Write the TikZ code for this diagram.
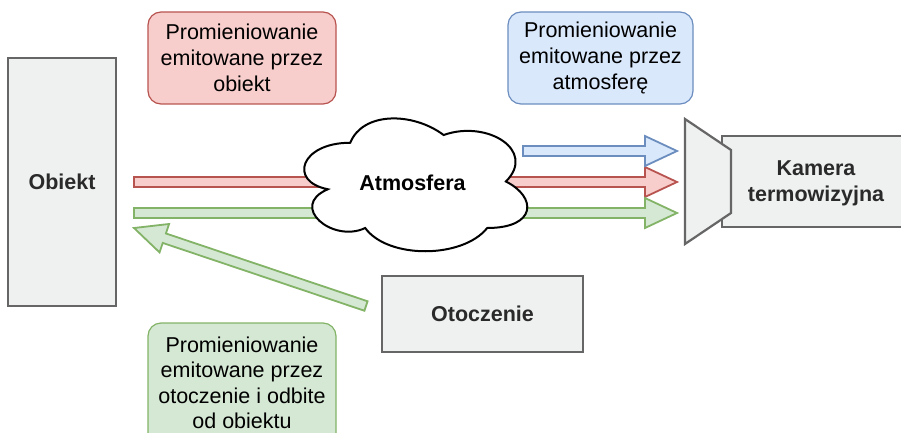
\documentclass[tikz,border=0pt]{standalone}
\usepackage{fontspec}
\setmainfont{Liberation Sans}
\usetikzlibrary{calc}
\definecolor{redS}{HTML}{B85450}\definecolor{redF}{HTML}{F8CECC}
\definecolor{bluS}{HTML}{6C8EBF}\definecolor{bluF}{HTML}{DAE8FC}
\definecolor{grnS}{HTML}{82B366}\definecolor{grnF}{HTML}{D5E8D4}
\definecolor{boxS}{HTML}{666666}\definecolor{boxF}{HTML}{EFF0F0}
\definecolor{txtD}{HTML}{2A2A2A}
\newcommand{\flexarr}[5]{%
  \coordinate (#5) at ($(#2)!32pt!(#1)$);
  \draw[draw=#3, fill=#4, line width=1.8pt, line join=miter]
   ($(#1)!5pt!90:(#2)$) -- ($(#5)!5pt!90:(#2)$) -- ($(#5)!15pt!90:(#2)$) -- (#2)
   -- ($(#5)!15pt!-90:(#2)$) -- ($(#5)!5pt!-90:(#2)$) -- ($(#1)!5pt!-90:(#2)$) -- cycle;}
\tikzset{
  gbox/.style={draw=boxS, fill=boxF, line width=2.2pt, text=txtD, font=\fontsize{21.5}{26}\selectfont\bfseries, align=center, inner sep=0pt},
  tbox/.style={rounded corners=13pt, line width=1.2pt, text=black, font=\fontsize{21.5}{26}\selectfont, align=center, inner sep=0pt, minimum width=188pt},
  ttext/.style={text=black, font=\fontsize{21.5}{25.5}\selectfont, align=center, inner sep=0pt},
}
\begin{document}
\begin{tikzpicture}[x=1pt,y=-1pt]
\useasboundingbox (0,0) rectangle (901,433);
\clip (0,0) rectangle (901,433);
% text boxes
\node[tbox, draw=redS, fill=redF, minimum height=92pt] (rtx) at (242,58) {Promieniowanie\\emitowane przez\\obiekt};
\node[tbox, draw=bluS, fill=bluF, minimum width=185pt, minimum height=92pt] (btx) at (600.5,58) {Promieniowanie\\emitowane przez\\atmosferę};
\node[tbox, draw=grnS, fill=grnF, minimum height=124pt] (gtx) at (242,385) {};
\node[ttext] (gtxt) at (242,383) {Promieniowanie\\emitowane przez\\otoczenie i odbite\\od obiektu};
% main boxes
\node[gbox, minimum width=108pt, minimum height=248pt] (obj) at (62,182) {Obiekt};
\node[gbox, minimum width=201pt, minimum height=76pt] (oto) at (482.5,314) {Otoczenie};
% arrow end points
\coordinate (rS) at (134,182); \coordinate (rE) at (677,182);
\coordinate (gS) at (134,213); \coordinate (gE) at (677,213);
\coordinate (bS) at (523,151); \coordinate (bE) at (677,151);
\coordinate (dS) at (366,306); \coordinate (dE) at (134,228);
\flexarr{rS}{rE}{redS}{redF}{rH}
\flexarr{gS}{gE}{grnS}{grnF}{gH}
\flexarr{dS}{dE}{grnS}{grnF}{dH}
% cloud
\begin{scope}[shift={(288,104)}, x=249pt, y=-155pt]
  \draw[line width=2pt, fill=white]
    (0.25,0.25) .. controls (0.05,0.25) and (0,0.5) .. (0.16,0.55)
    .. controls (0,0.66) and (0.18,0.9) .. (0.31,0.8)
    .. controls (0.4,1) and (0.7,1) .. (0.8,0.8)
    .. controls (1,0.8) and (1,0.6) .. (0.875,0.5)
    .. controls (1,0.3) and (0.8,0.1) .. (0.625,0.2)
    .. controls (0.5,0.05) and (0.3,0.05) .. (0.25,0.25) -- cycle;
  \node[font=\fontsize{21.5}{26}\selectfont\bfseries, text=black, inner sep=0pt] (atm) at (0.5,0.51) {Atmosfera};
\end{scope}
\flexarr{bS}{bE}{bluS}{bluF}{bH}
% camera
\node[gbox, minimum width=188pt, minimum height=91pt] (cam) at (816,181.5) {};
\node[font=\fontsize{21.5}{26}\selectfont\bfseries, text=txtD, align=center, inner sep=0pt] (camt) at (816,183) {Kamera\\termowizyjna};
\coordinate (t1) at (685,119); \coordinate (t2) at (731,150);
\coordinate (t3) at (731,213); \coordinate (t4) at (685,244);
\draw[draw=boxS, fill=boxF, line width=2.2pt, line join=miter] (t1) -- (t2) -- (t3) -- (t4) -- cycle;
\end{tikzpicture}
\end{document}
